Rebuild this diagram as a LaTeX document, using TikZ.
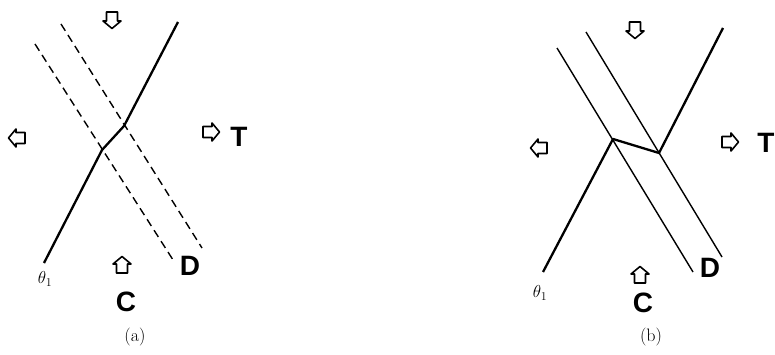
\documentclass[tikz,border=0pt]{standalone}
\usepackage{fontspec}
\setsansfont{Liberation Sans}

\begin{document}
\begin{tikzpicture}[
    x=1pt, y=-1pt,
    front/.style={draw=black, line width=2.3pt, line join=round},
    wall/.style={draw=black, line width=1.4pt},
    ghost/.style={draw=black, line width=1.4pt, dash pattern=on 8pt off 5pt},
    letter/.style={font=\sffamily\bfseries\fontsize{28}{28}\selectfont},
    angle/.style={font=\fontsize{18}{18}\selectfont},
    caption/.style={font=\fontsize{18}{18}\selectfont},
    hollow/.pic={
      \draw[line width=1.6pt, line join=round]
        (-8,-5.5) -- (1,-5.5) -- (1,-9) -- (8.5,0) -- (1,9) -- (1,5.5) -- (-8,5.5) -- cycle;
    },
  ]
    \useasboundingbox (0,0) rectangle (775,355);

    % --- Panel (a): solid front, dashed walls ---
    \coordinate (a-s0) at (44,263);
    \coordinate (a-k1) at (102,150);
    \coordinate (a-k2) at (124,126);
    \coordinate (a-s3) at (178,22);
    \coordinate (a-l0) at (35,44);
    \coordinate (a-l1) at (175,263);
    \coordinate (a-r0) at (61,24);
    \coordinate (a-r1) at (202,248);
    \draw[ghost] (a-l0) -- (a-l1);
    \draw[ghost] (a-r0) -- (a-r1);
    \draw[front] (a-s0) -- (a-k1) -- (a-k2) -- (a-s3);

    \pic[rotate=-90] at (112,20) {hollow};
    \pic[rotate=180] at (17,138) {hollow};
    \pic at (211,132) {hollow};
    \pic[rotate=90] at (122,265) {hollow};
    \node[letter] (a-T) at (239,137) {T};
    \node[letter] (a-D) at (190,266) {D};
    \node[letter] (a-C) at (126,302) {C};
    \node[angle] (a-th) at (45,279) {$\theta_1$};
    \node[caption] (a-cap) at (135,337) {(a)};

    % --- Panel (b): solid front, solid walls ---
    \coordinate (b-s0) at (543,272);
    \coordinate (b-k1) at (613,139);
    \coordinate (b-k2) at (659,153);
    \coordinate (b-s3) at (723,28);
    \coordinate (b-l0) at (557,48);
    \coordinate (b-l1) at (693,272);
    \coordinate (b-r0) at (586,32);
    \coordinate (b-r1) at (722,257);
    \draw[wall] (b-l0) -- (b-l1);
    \draw[wall] (b-r0) -- (b-r1);
    \draw[front] (b-s0) -- (b-k1) -- (b-k2) -- (b-s3);

    \pic[rotate=-90] at (635,30) {hollow};
    \pic[rotate=180] at (539,148) {hollow};
    \pic at (730,142) {hollow};
    \pic[rotate=90] at (640,275) {hollow};
    \node[letter] (b-T) at (766,143) {T};
    \node[letter] (b-D) at (710,268) {D};
    \node[letter] (b-C) at (643,303) {C};
    \node[angle] (b-th) at (540,293) {$\theta_1$};
    \node[caption] (b-cap) at (651,337) {(b)};
\end{tikzpicture}
\end{document}
